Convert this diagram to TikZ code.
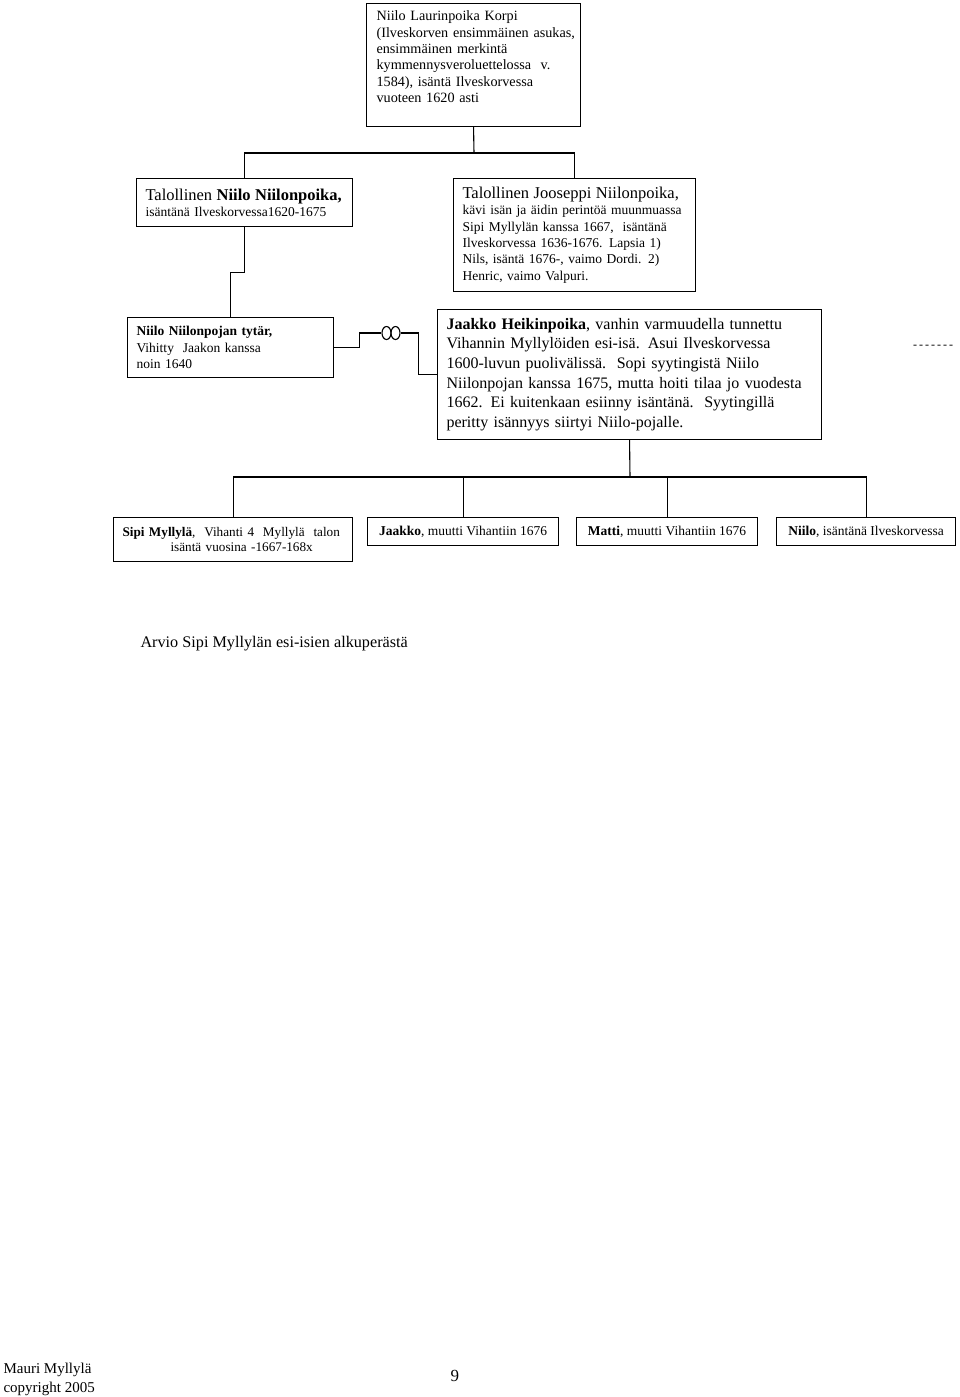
\documentclass[tikz,border=0pt]{standalone}
\usepackage{fontspec}
\setmainfont{Liberation Serif}

\begin{document}
\begin{tikzpicture}[x=1pt, y=-1pt, line width=1.1pt,
    henkilo/.style = {rectangle, draw=black, anchor=north west,
        inner xsep=9pt, inner ysep=3pt, align=left,
        font=\fontsize{13.5}{16.4}\selectfont},
    lapsi/.style = {henkilo, align=center, minimum height=28pt}
]
  \useasboundingbox (0,0) rectangle (960,1397);

  % ylin polvi
  \node (korpi) [henkilo, text width=194pt, inner xsep=10pt, minimum height=123pt,
      font=\fontsize{14.2}{16.4}\selectfont] at (366,3)
      {Niilo Laurinpoika Korpi\\
       \mbox{(Ilveskorven ensimmäinen asukas,}\\
       ensimmäinen merkintä\\
       kymmennysveroluettelossa\ \ v.\\
       1584), isäntä Ilveskorvessa\\
       vuoteen 1620 asti\\ \mbox{}};

  % pojat
  \node (niilo) [henkilo, text width=198pt, minimum height=48pt] at (136,178)
      {\mbox{\fontsize{16.5}{18}\selectfont Talollinen \textbf{Niilo Niilonpoika,}}\\
       isäntänä Ilveskorvessa1620-1675};
  \node (jooseppi) [henkilo, text width=224pt, minimum height=113pt] at (453,178)
      {\mbox{\fontsize{16.5}{18}\selectfont Talollinen Jooseppi Niilonpoika,}\\
       kävi isän ja äidin perintöä muunmuassa\\
       Sipi Myllylän kanssa 1667,\ \ isäntänä\\
       Ilveskorvessa 1636-1676. Lapsia 1)\\
       Nils, isäntä 1676-, vaimo Dordi. 2)\\
       Henric, vaimo Valpuri.};

  % tytär ja puoliso
  \node (tytar) [henkilo, text width=188pt, minimum height=60pt] at (127,317)
      {\textbf{Niilo Niilonpojan tytär,}\\
       Vihitty\ \ Jaakon kanssa\\
       noin 1640};
  \node (jaakko) [henkilo, text width=366pt, minimum height=130pt,
      font=\fontsize{16}{19.6}\selectfont] at (437,309)
      {\textbf{Jaakko Heikinpoika}, vanhin varmuudella tunnettu\\
       Vihannin Myllylöiden esi-isä. Asui Ilveskorvessa\\
       1600-luvun puolivälissä.\ \ Sopi syytingistä Niilo\\
       Niilonpojan kanssa 1675, mutta hoiti tilaa jo vuodesta\\
       1662. Ei kuitenkaan esiinny isäntänä.\ \ Syytingillä\\
       peritty isännyys siirtyi Niilo-pojalle.};
  \node (viiva) [font=\fontsize{12}{14}\selectfont] at (933,347)
      {-\,-\,-\,-\,-\,-\,-};

  % lapset
  \node (sipi) [henkilo, text width=221pt, minimum height=44pt,
      font=\fontsize{13.2}{15.5}\selectfont] at (113,517)
      {\textbf{Sipi Myllylä},\ \ Vihanti 4\ \ Myllylä\ \ talon\\
       \hspace*{48pt}isäntä vuosina -1667-168x};
  \node (jaakkop) [lapsi, minimum width=191pt] at (367,517)
      {\textbf{Jaakko}, muutti Vihantiin 1676};
  \node (matti) [lapsi, minimum width=181pt] at (576,517)
      {\textbf{Matti}, muutti Vihantiin 1676};
  \node (niilop) [lapsi, minimum width=179pt] at (776,517)
      {\textbf{Niilo}, isäntänä Ilveskorvessa};

  % vihkisormukset
  \node (sormukset) [minimum width=18pt, minimum height=13pt, inner sep=0pt] at (391,333) {};
  \draw (sormukset.center) ++(-4.5,0) ellipse [x radius=4.5, y radius=6.5];
  \draw (sormukset.center) ++(4.5,0) ellipse [x radius=4.5, y radius=6.5];

  % yhteydet
  \coordinate (haara1) at (474,153);
  \coordinate (haara2) at (630,477);
  \draw (korpi.south) -- (haara1);
  \draw (niilo.north) |- (haara1) -| (jooseppi.north);
  \draw (niilo.south) -- ++(0,45) -| (tytar.north);
  \draw (tytar.east) -- ++(25,0) |- (sormukset.west);
  \draw (sormukset.east) -- ++(18,0) |- (jaakko.west);
  \draw (jaakko.south) -- (haara2);
  \draw (sipi.north) |- (haara2) -| (niilop.north);
  \draw (jaakkop.north) -- (jaakkop.north |- haara2);
  \draw (matti.north) -- (matti.north |- haara2);

  % otsikko ja alatunniste
  \node (otsikko) [anchor=base west, inner sep=0pt, font=\fontsize{16.2}{19}\selectfont] at (140,647)
      {Arvio Sipi Myllylän esi-isien alkuperästä};
  \node (tekija) [anchor=base west, inner sep=0pt, align=left,
      font=\fontsize{15}{19}\selectfont] at (3,1392)
      {Mauri Myllylä\\copyright 2005};
  \node (sivu) [anchor=base west, inner sep=0pt, font=\fontsize{17}{20}\selectfont] at (450,1381) {9};
\end{tikzpicture}
\end{document}
